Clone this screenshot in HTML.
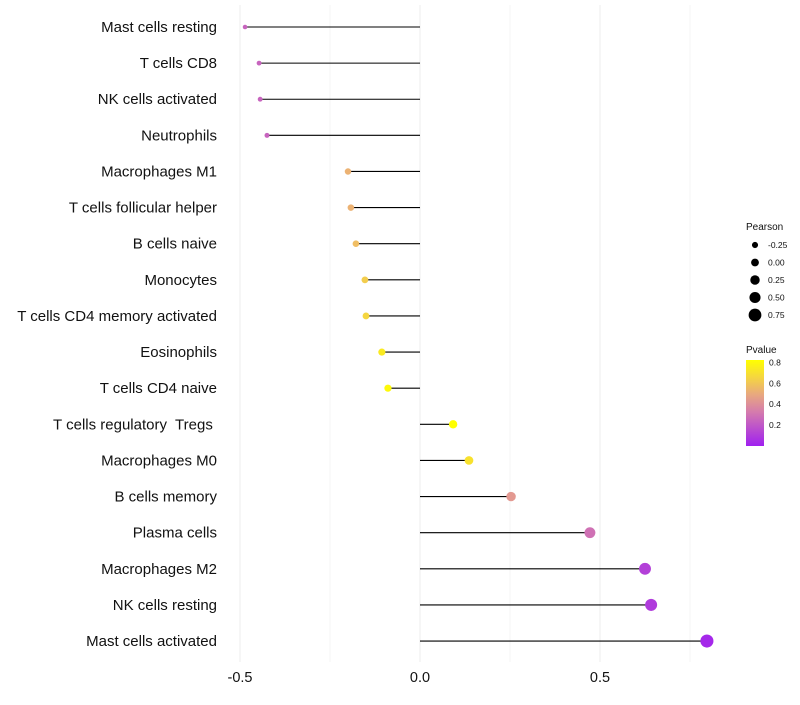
<!DOCTYPE html>
<html><head><meta charset="utf-8"><style>
body{margin:0;background:#fff;font-family:"Liberation Sans",sans-serif}
text{white-space:pre}
</style></head><body>
<svg id="chart" width="800" height="700"></svg>
<script>
const categories=["Mast cells resting","T cells CD8","NK cells activated","Neutrophils","Macrophages M1","T cells follicular helper","B cells naive","Monocytes","T cells CD4 memory activated","Eosinophils","T cells CD4 naive","T cells regulatory  Tregs ","Macrophages M0","B cells memory","Plasma cells","Macrophages M2","NK cells resting","Mast cells activated"];
const pearson=[-0.486,-0.447,-0.444,-0.425,-0.2,-0.192,-0.178,-0.153,-0.15,-0.106,-0.089,0.092,0.136,0.253,0.472,0.625,0.642,0.797];
const pvalues=[0.25,0.25,0.25,0.25,0.55,0.55,0.6,0.65,0.68,0.75,0.8,0.82,0.72,0.45,0.3,0.12,0.1,0.03];
const xTicks=[-0.5,0,0.5];
const xTickLabels=["-0.5","0.0","0.5"];
const sizeLegendVals=[-0.25,0,0.25,0.5,0.75];
const sizeLegendLabels=["-0.25","0.00","0.25","0.50","0.75"];
const colorLegendVals=[0.8,0.6,0.4,0.2];

const NS="http://www.w3.org/2000/svg";
const svg=document.getElementById('chart');
function mk(t,a,p){const e=document.createElementNS(NS,t);for(const k in a)e.setAttribute(k,a[k]);(p||svg).appendChild(e);return e;}
const xS=v=>420+v*360;
const yS=i=>27+i*36.12;
const rS=v=>Math.max(1.5,3.9+3.3*v);
function lerp(a,b,t){return a.map((x,i)=>Math.round(x+(b[i]-x)*t));}
function col(p){const s=[[0,[160,32,240]],[0.4,[222,140,160]],[0.6,[240,190,100]],[0.82,[255,255,0]]];
 p=Math.max(0,Math.min(0.82,p));for(let i=0;i<s.length-1;i++){if(p<=s[i+1][0]){const c=lerp(s[i][1],s[i+1][1],(p-s[i][0])/(s[i+1][0]-s[i][0]));return `rgb(${c})`;}}return 'rgb(255,255,0)';}

[-0.5,-0.25,0,0.25,0.5,0.75].forEach(v=>{const g=mk('line',{x1:xS(v),x2:xS(v),y1:5,y2:662,stroke:v%0.5===0?'#ececec':'#f4f4f4','stroke-width':1});
});
xTicks.forEach((v,i)=>{const t=mk('text',{x:xS(v),y:682,'text-anchor':'middle','font-size':14.5,fill:'#111'});t.textContent=xTickLabels[i];
});

categories.forEach((c,i)=>{const y=yS(i);
 const t=mk('text',{x:217,y:y+5,'text-anchor':'end','font-size':15,fill:'#111'});t.textContent=c;
 
 const l=mk('line',{x1:xS(0),x2:xS(pearson[i]),y1:y,y2:y,stroke:'#000','stroke-width':1.1});
 
 const d=mk('circle',{cx:xS(pearson[i]),cy:y,r:rS(pearson[i]),fill:col(pvalues[i])});
 
});

const lt=mk('text',{x:746,y:230,'font-size':10,fill:'#111'});lt.textContent='Pearson';

sizeLegendVals.forEach((v,i)=>{const y=245+i*17.5;
 const c=mk('circle',{cx:755,cy:y,r:rS(v),fill:'#000'});
 const t=mk('text',{x:768,y:y+3,'font-size':8.5,fill:'#111'});t.textContent=sizeLegendLabels[i];
 });
const ct=mk('text',{x:746,y:353,'font-size':10,fill:'#111'});ct.textContent='Pvalue';

const defs=mk('defs',{});const gr=mk('linearGradient',{id:'pg',x1:0,y1:1,x2:0,y2:0},defs);
[0,0.2,0.4,0.6,0.8,1].forEach(f=>mk('stop',{offset:f,'stop-color':col(f*0.85)},gr));
const bar=mk('rect',{x:746,y:360,width:18,height:86,fill:'url(#pg)'});

colorLegendVals.forEach(v=>{const y=446-v*104.5;
 const t=mk('text',{x:769,y:y+3,'font-size':8.5,fill:'#111'});t.textContent=v.toFixed(1);
 });
</script>
</body></html>
